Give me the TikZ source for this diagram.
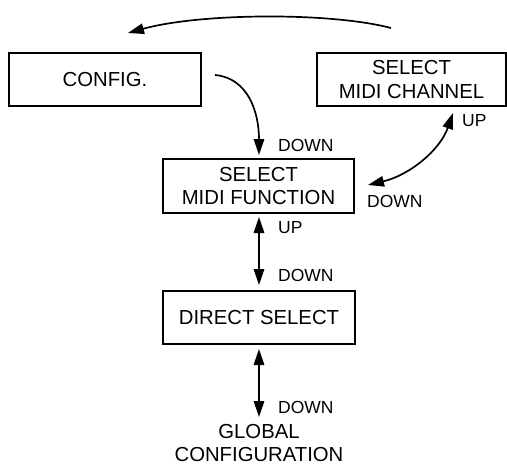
\documentclass[tikz,border=0pt]{standalone}
\usepackage{fontspec}
\setmainfont{Liberation Sans}
\usetikzlibrary{arrows.meta}
\begin{document}
\begin{tikzpicture}[x=1pt,y=-1pt,
  box/.style={draw,line width=1.4pt,minimum height=53pt,inner sep=0pt,align=center,
    font=\fontsize{20.3}{23.5}\selectfont},
  lbl/.style={anchor=west,inner sep=0pt,font=\fontsize{17.5}{20}\selectfont},
  conn/.style={line width=1.7pt,-{Triangle[length=16pt,width=10.5pt]}},
  dconn/.style={line width=1.7pt,{Triangle[length=16pt,width=10.5pt]}-{Triangle[length=16pt,width=10.5pt]}}]
\useasboundingbox (0,0) rectangle (507,466);
\node[box,minimum width=192pt] (config) at (105,79.5) {CONFIG.};
\node[box,minimum width=189pt] (smc) at (411.5,79.5) {SELECT\\MIDI CHANNEL};
\node[box,minimum width=191pt,minimum height=54pt] (smf) at (258.5,186) {SELECT\\MIDI FUNCTION};
\node[box,minimum width=192pt] (ds) at (259,317.5) {DIRECT SELECT};
\node[align=center,inner sep=0pt,font=\fontsize{20.3}{23}\selectfont] (global) at (259,443.5) {GLOBAL\\CONFIGURATION};
% connector end points
\coordinate (t1) at (391,28);
\coordinate (t2) at (128,33);
\coordinate (c1) at (215,75);
\coordinate (c2) at (259,155);
\coordinate (m1) at (453,113);
\coordinate (m2) at (368,185);
\coordinate (v1) at (259,217);
\coordinate (v2) at (259,285);
\coordinate (w1) at (259,349);
\coordinate (w2) at (259,417);
\draw[conn] (t1) .. controls (330,12) and (200,13) .. (t2);
\draw[conn] (c1) .. controls (248,78) and (259,112) .. (c2);
\draw[dconn] (m1) .. controls (440,150) and (410,175) .. (m2);
\draw[dconn] (v1) -- (v2);
\draw[dconn] (w1) -- (w2);
% labels
\node[lbl] (l1) at (278,145) {DOWN};
\node[lbl] (l2) at (462,121) {UP};
\node[lbl] (l3) at (367,201) {DOWN};
\node[lbl] (l4) at (278,228) {UP};
\node[lbl] (l5) at (278,275) {DOWN};
\node[lbl] (l6) at (278,407) {DOWN};
\end{tikzpicture}
\end{document}
